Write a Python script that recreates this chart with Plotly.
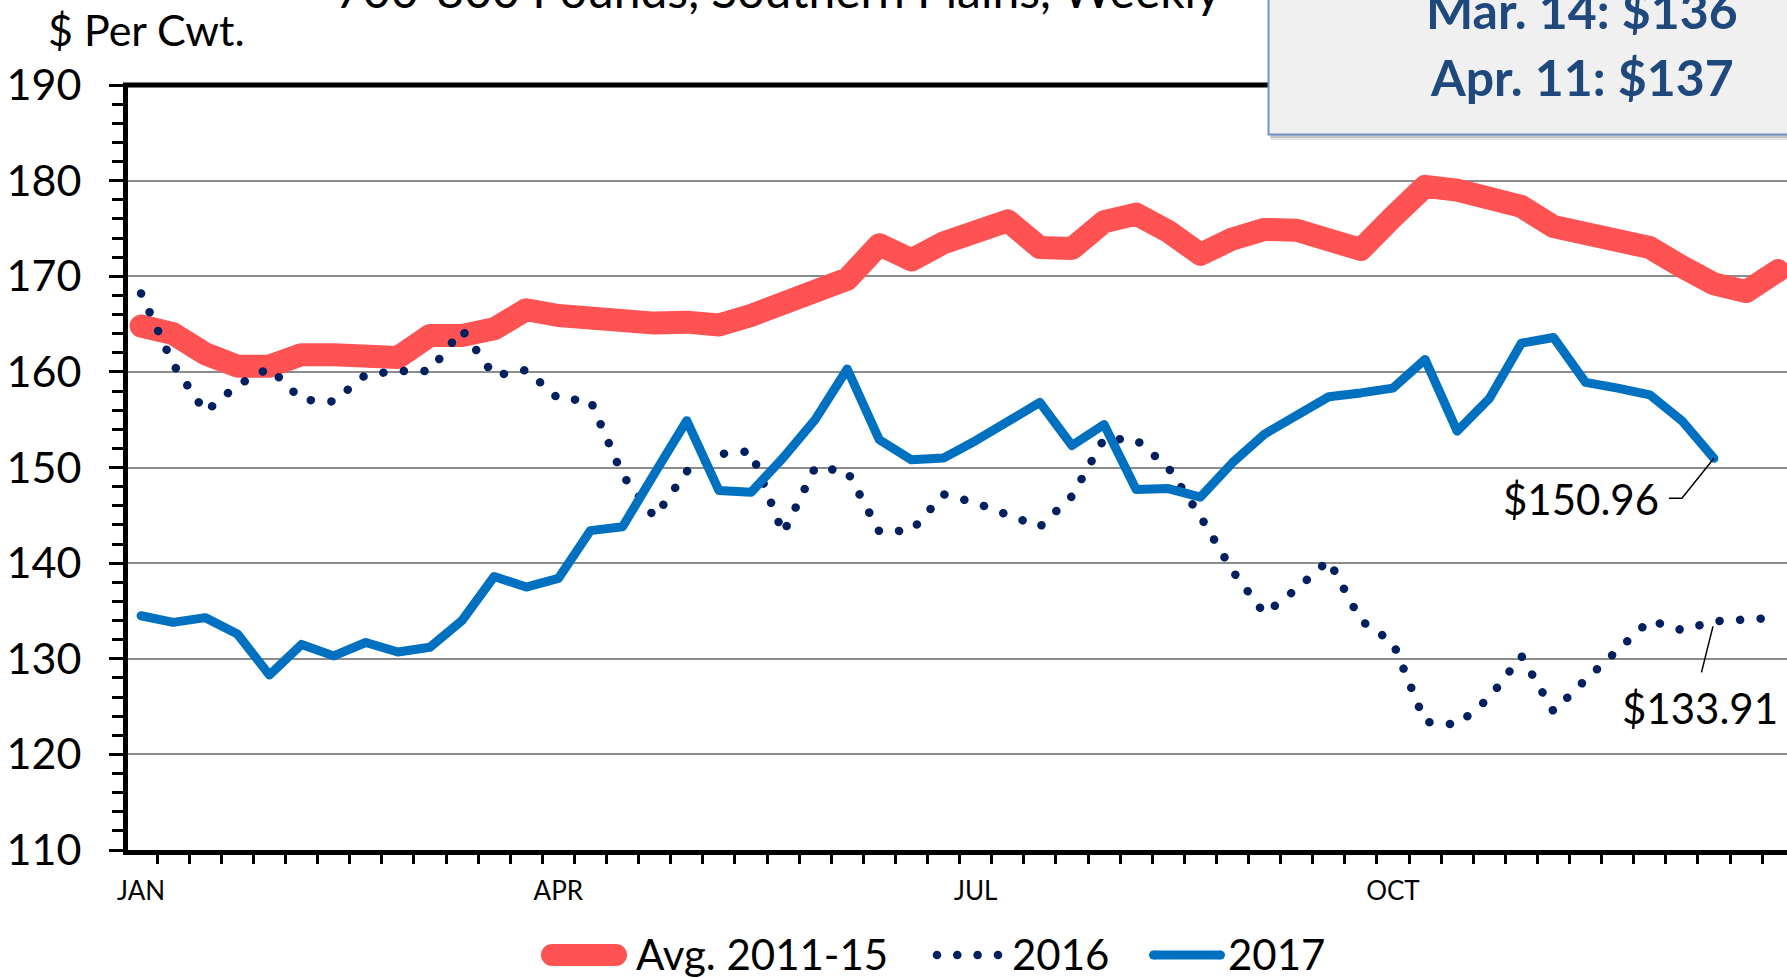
import plotly.graph_objects as go

# ---------------- data ----------------
weeks = list(range(52))
month_labels = ["JAN", "APR", "JUL", "OCT"]
month_pos = [0, 13, 26, 39]

avg_2011_15 = [164.8, 164.0, 161.9, 160.6, 160.6, 161.8, 161.8, 161.8, 161.5, 163.8,
               163.8, 164.5, 166.5, 165.9, 165.6, 164.9, 165.1, 165.2, 164.9, 165.9,
               167.1, 168.1, 169.7, 173.3, 171.7, 173.5, 174.4, 175.8, 173.0, 172.9,
               175.7, 176.5, 174.7, 172.3, 173.9, 174.9, 174.8, 173.6, 172.8, 176.2,
               179.4, 179.0, 178.0, 177.3, 175.2, 174.5, 173.9, 173.0, 171.0, 169.2,
               168.4, 170.6]
y2016 = [168.2, 160.8, 155.8, 158.6, 160.4, 157.1, 156.9, 159.7, 160.1, 160.1,
         164.4, 159.6, 160.2, 157.2, 157.0, 149.2, 144.8, 149.6, 151.4, 151.7,
         143.1, 150.0, 149.6, 143.3, 143.4, 147.2, 146.3, 145.0, 143.8, 147.0,
         153.0, 152.9, 150.0, 144.9, 139.2, 134.7, 137.3, 140.3, 134.0, 131.7,
         123.4, 123.1, 125.9, 130.3, 124.5, 127.8, 131.0, 134.0, 133.0, 133.91,
         134.1, 134.3]
y2017 = [134.5, 133.8, 134.3, 132.6, 128.3, 131.5, 130.3, 131.7, 130.7, 131.2,
         134.0, 138.6, 137.5, 138.4, 143.4, 143.8, 149.4, 154.9, 147.6, 147.4,
         151.0, 155.0, 160.3, 152.9, 150.8, 151.0, 152.8, 154.8, 156.8, 152.3,
         154.5, 147.7, 147.8, 146.9, 150.5, 153.5, 155.5, 157.4, 157.8, 158.3,
         161.3, 153.8, 157.2, 163.0, 163.6, 158.9, 158.3, 157.6, 154.9, 150.96]

series_names = ["Avg. 2011-15", "2016", "2017"]
title_text = "700-800 Pounds, Southern Plains, Weekly"
unit_text = "$ Per Cwt."
box_lines = ["Mar. 14: $136", "Apr. 11: $137"]
label_2017 = "$150.96"
label_2016 = "$133.91"

# ---------------- geometry ----------------
W, H = 1787, 978
L, T, B, R = 128, 85, 128, 0
PW = W - L - R
PH = H - T - B
PX_PER_WEEK = 32.1
X_MIN = -0.5 + 3 / PX_PER_WEEK
X_MAX = X_MIN + PW / PX_PER_WEEK
Y_MIN, Y_MAX = 110, 190
PX_PER_Y = PH / (Y_MAX - Y_MIN)

RED = "#FF5252"
NAVY = "#002060"
BLUE = "#0070C0"
FONT = "Lato"


def xp(px):
    return (px - L) / PW


def yp(py):
    return (H - B - py) / PH


def dx(pix):
    return pix / PX_PER_WEEK


def dy(pix):
    return pix / PX_PER_Y


fig = go.Figure()
fig.add_trace(go.Scatter(x=weeks, y=avg_2011_15, mode="lines", name=series_names[0],
                         line=dict(color=RED, width=23)))
fig.add_trace(go.Scatter(x=weeks, y=y2016, mode="lines", name=series_names[1],
                         line=dict(color=NAVY, width=8.5, dash="8px,12.5px")))
fig.add_trace(go.Scatter(x=weeks[:len(y2017)], y=y2017, mode="lines", name=series_names[2],
                         line=dict(color=BLUE, width=9)))

shapes = []
annotations = []

# top border of the plot area
shapes.append(dict(type="line", xref="paper", yref="paper", x0=xp(123), x1=xp(1800), y0=1, y1=1,
                   line=dict(color="black", width=5), layer="above"))

# top-right info box with shadow
shapes.append(dict(type="rect", xref="paper", yref="paper", x0=xp(1271), x1=xp(1800),
                   y0=yp(140), y1=yp(-20), fillcolor="rgba(0,0,0,0.10)", line=dict(width=0), layer="above"))
shapes.append(dict(type="rect", xref="paper", yref="paper", x0=xp(1270), x1=xp(1800),
                   y0=yp(138), y1=yp(-20), fillcolor="rgba(0,0,0,0.15)", line=dict(width=0), layer="above"))
shapes.append(dict(type="rect", xref="paper", yref="paper", x0=xp(1268.5), x1=xp(1800),
                   y0=yp(134.5), y1=yp(-20), fillcolor="#F0F0F0", line=dict(color="#6F93C8", width=2),
                   layer="above"))
for txt, cy in zip(box_lines, [10, 77]):
    annotations.append(dict(text="<b>" + txt + "</b>", xref="paper", yref="paper", x=xp(1582), y=yp(cy),
                            xanchor="center", yanchor="middle", showarrow=False,
                            font=dict(family=FONT, size=50, color="#1F497D")))

# title (cut at top) and unit label
annotations.append(dict(text=title_text, xref="paper", yref="paper", x=xp(778), y=yp(-11),
                        xanchor="center", yanchor="middle", showarrow=False,
                        font=dict(family=FONT, size=48, color="black")))
annotations.append(dict(text=unit_text, xref="paper", yref="paper", x=xp(46), y=yp(29),
                        xanchor="left", yanchor="middle", showarrow=False,
                        font=dict(family=FONT, size=43, color="black")))

# value call-outs
i_last = len(y2017) - 1
v17 = y2017[i_last]
shapes.append(dict(type="path", xref="x", yref="y",
                   path=f"M {i_last},{v17} L {i_last - dx(32)},{v17 - dy(40)} L {i_last - dx(45)},{v17 - dy(40)}",
                   line=dict(color="black", width=1.5)))
annotations.append(dict(text=label_2017, xref="x", yref="y", x=i_last - dx(53), y=v17 - dy(41),
                        xanchor="right", yanchor="middle", showarrow=False,
                        font=dict(family=FONT, size=42, color="black")))
v16 = y2016[i_last]
shapes.append(dict(type="path", xref="x", yref="y",
                   path=f"M {i_last - dx(1)},{v16 - dy(5)} L {i_last - dx(12.5)},{v16 - dy(51)}",
                   line=dict(color="black", width=1.5)))
annotations.append(dict(text=label_2016, xref="x", yref="y", x=i_last - dx(13.5), y=v16 - dy(87),
                        xanchor="center", yanchor="middle", showarrow=False,
                        font=dict(family=FONT, size=42, color="black")))

# manual legend
LY = 955
shapes.append(dict(type="line", xref="paper", yref="paper", x0=xp(552), x1=xp(616), y0=yp(LY), y1=yp(LY),
                   line=dict(color=RED, width=22)))
for cx in (552, 616):
    shapes.append(dict(type="circle", xref="paper", yref="paper", x0=xp(cx - 11), x1=xp(cx + 11),
                       y0=yp(LY + 11), y1=yp(LY - 11), fillcolor=RED, line=dict(width=0)))
for cx in (937, 957.3, 977.6, 998):
    shapes.append(dict(type="circle", xref="paper", yref="paper", x0=xp(cx - 4.3), x1=xp(cx + 4.3),
                       y0=yp(LY + 4.3), y1=yp(LY - 4.3), fillcolor=NAVY, line=dict(width=0)))
shapes.append(dict(type="line", xref="paper", yref="paper", x0=xp(1153.5), x1=xp(1220.5), y0=yp(LY), y1=yp(LY),
                   line=dict(color=BLUE, width=9)))
for cx in (1153.5, 1220.5):
    shapes.append(dict(type="circle", xref="paper", yref="paper", x0=xp(cx - 4.5), x1=xp(cx + 4.5),
                       y0=yp(LY + 4.5), y1=yp(LY - 4.5), fillcolor=BLUE, line=dict(width=0)))
for txt, lx in zip(series_names, [634, 1010, 1226]):
    annotations.append(dict(text=txt, xref="paper", yref="paper", x=xp(lx), y=yp(LY - 1),
                            xanchor="left", yanchor="middle", showarrow=False,
                            font=dict(family=FONT, size=42, color="black")))

fig.update_layout(
    width=W, height=H,
    margin=dict(l=L, r=R, t=T, b=B, pad=0),
    paper_bgcolor="white", plot_bgcolor="white",
    showlegend=False,
    font=dict(family=FONT, color="black"),
    shapes=shapes,
    annotations=annotations,
    xaxis=dict(range=[X_MIN, X_MAX], showgrid=False, zeroline=False,
               showline=True, linecolor="black", linewidth=5,
               tickmode="array", tickvals=month_pos, ticktext=month_labels, ticks="",
               tickfont=dict(family=FONT, size=26, color="black"), ticklabelstandoff=14,
               minor=dict(tick0=-0.5, dtick=1, ticks="outside", ticklen=9, tickwidth=2.5,
                          tickcolor="black", showgrid=False)),
    yaxis=dict(range=[Y_MIN, Y_MAX], tick0=110, dtick=10, showgrid=True, gridcolor="#8C8C8C", gridwidth=2,
               zeroline=False, showline=True, linecolor="black", linewidth=5,
               ticks="outside", ticklen=14, tickwidth=2.5, tickcolor="black",
               tickfont=dict(family=FONT, size=43, color="black"), ticklabelstandoff=19,
               minor=dict(dtick=2, ticks="outside", ticklen=11, tickwidth=2.5, tickcolor="black",
                          showgrid=False)),
)

post = """
document.body.style.margin='0';
document.body.style.overflow='hidden';
var gd = document.getElementById('{plot_id}');
function roundDots(){
  var tr = gd.querySelectorAll('.scatterlayer .trace');
  gd.querySelectorAll('.scatterlayer path.js-line').forEach(function(q){
    q.style.strokeLinejoin = 'round'; q.style.strokeLinecap = 'round';
  });
  if (tr.length > 1) {
    var p = tr[1].querySelector('path.js-line');
    if (p) { p.style.strokeDasharray = '0.1px,20.5px'; }
  }
}
roundDots();
gd.on('plotly_afterplot', roundDots);
"""

fig.write_html("out.html", post_script=post, config={"displayModeBar": False})
